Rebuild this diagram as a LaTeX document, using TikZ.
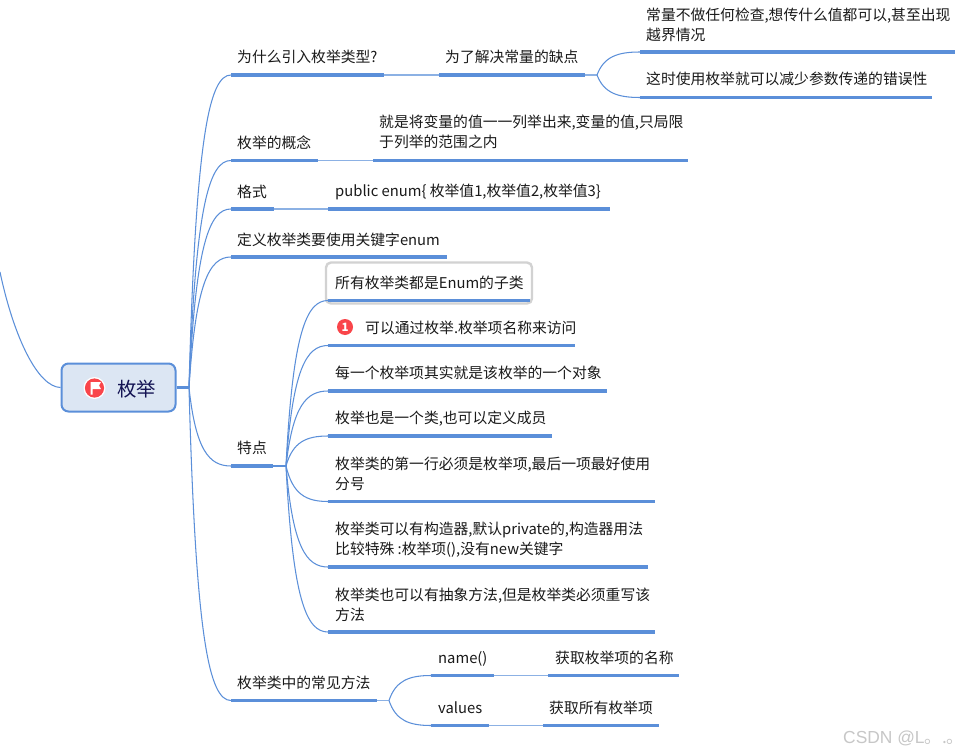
\documentclass[tikz,border=0pt]{standalone}
\usepackage{fontspec}
\setmainfont{Noto Sans CJK SC}
\newfontfamily\wmfont{Liberation Sans}
\usetikzlibrary{calc}
\definecolor{barblue}{HTML}{5B8FD9}
\definecolor{rootfill}{HTML}{DCE6F3}
\definecolor{framegrey}{HTML}{D2D2D2}
\definecolor{iconred}{HTML}{F9454A}
\definecolor{inkc}{HTML}{1A1A1A}
\tikzset{
  bar/.style={draw=barblue,line width=3.4pt},
  link/.style={draw=barblue,line width=1.05pt},
  stublink/.style={draw=barblue!70,line width=1.05pt},
  lab/.style={anchor=base west,inner sep=0pt,align=left,text=inkc,font=\fontsize{14.8}{20}\selectfont},
}
% name, x-left, x-right, y of bar
\newcommand{\mybar}[4]{%
  \coordinate (#1-l) at (#2,#4);
  \coordinate (#1-r) at (#3,#4);
  \draw[bar] (#1-l) -- (#1-r);}
% fork curve from coordinate to coordinate
\newcommand{\mycurve}[2]{%
  \draw[link] let \p1=(#1),\p2=(#2) in (#1) .. controls
   ({\x1+0.16*(\x2-\x1)},{\y1+0.80*(\y2-\y1)}) and ({\x1+0.48*(\x2-\x1)},\y2) .. (#2);}
\begin{document}
\begin{tikzpicture}[x=1pt,y=-1pt]
\useasboundingbox (0,0) rectangle (971,754);
\fill[white] (0,0) rectangle (971,754);

% forks
\coordinate (rootfork) at (189,387.5);
\coordinate (whyfork) at (597,75);
\coordinate (featfork) at (286,466);
\coordinate (methfork) at (389,700.5);
\coordinate (offleft) at (0,272);

% frame of selected topic
\node[draw=framegrey,line width=2.4pt,rounded corners=5pt,minimum width=206pt,minimum height=41pt,inner sep=0pt] (selframe) at (429,283) {};

% bars
\mybar{why}{231}{384}{75}
\mybar{solve}{439}{585}{75}
\mybar{noch}{640}{955}{52}
\mybar{less}{640}{932}{97.5}
\mybar{conc}{231}{318}{160.5}
\mybar{concd}{373}{688}{160.5}
\mybar{fmt}{231}{274}{209}
\mybar{fmtd}{328}{610}{209}
\mybar{def}{231}{447}{257}
\mybar{feat}{231}{273}{466}
\mybar{f1}{328}{530}{300.5}
\mybar{f2}{328}{575}{345.5}
\mybar{f3}{328}{607}{391}
\mybar{f4}{328}{552}{436}
\mybar{f5}{328}{655}{501.5}
\mybar{f6}{328}{648}{567}
\mybar{f7}{328}{655}{632}
\mybar{meth}{231}{377}{700.5}
\mybar{name}{431}{494}{675.5}
\mybar{named}{548}{679}{675.5}
\mybar{vals}{431}{489}{725.5}
\mybar{valsd}{543}{659}{725.5}

% root
\node[draw=barblue,fill=rootfill,line width=2pt,rounded corners=7pt,minimum width=114pt,minimum height=48pt,inner sep=0pt] (root) at (118.5,387.5) {};
\draw[bar] (root.east) -- (rootfork);
\fill[white] (94.5,388) circle (11pt);
\fill[iconred] (94.5,388) circle (9.6pt) coordinate (flagc);
\fill[white] (90.5,382) -- (101,382) -- (99,385.5) -- (101,389) -- (92.5,389) -- (92.5,394.5) -- (90.5,394.5) -- cycle;
\node[lab,font=\fontsize{19.4}{22}\selectfont,text=inkc!75!blue] (roottext) at (117,396.5) {枚举};

% connectors
\draw[link] (root.west) .. controls (38,387) and (14,338) .. (offleft);
\mycurve{rootfork}{why-l}
\mycurve{rootfork}{conc-l}
\mycurve{rootfork}{fmt-l}
\mycurve{rootfork}{def-l}
\mycurve{rootfork}{feat-l}
\mycurve{rootfork}{meth-l}
\draw[stublink] (why-r) -- (solve-l);
\draw[stublink] (conc-r) -- (concd-l);
\draw[stublink] (fmt-r) -- (fmtd-l);
\draw[stublink] (solve-r) -- (whyfork);
\mycurve{whyfork}{noch-l}
\mycurve{whyfork}{less-l}
\draw[link] (feat-r) -- (featfork);
\mycurve{featfork}{f1-l}
\mycurve{featfork}{f2-l}
\mycurve{featfork}{f3-l}
\mycurve{featfork}{f4-l}
\mycurve{featfork}{f5-l}
\mycurve{featfork}{f6-l}
\mycurve{featfork}{f7-l}
\draw[stublink] (meth-r) -- (methfork);
\mycurve{methfork}{name-l}
\mycurve{methfork}{vals-l}
\draw[stublink] (name-r) -- (named-l);
\draw[stublink] (vals-r) -- (valsd-l);

% labels
\node[lab] (twhy) at (237,63) {为什么引入枚举类型?};
\node[lab] (tsolve) at (445,63) {为了解决常量的缺点};
\node[lab] (tnoch) at (646,40.5) {常量不做任何检查,想传什么值都可以,甚至出现\\越界情况};
\node[lab] (tless) at (646,85) {这时使用枚举就可以减少参数传递的错误性};
\node[lab] (tconc) at (237,149) {枚举的概念};
\node[lab] (tconcd) at (379,148) {就是将变量的值一一列举出来,变量的值,只局限\\于列举的范围之内};
\node[lab] (tfmt) at (237,197) {格式};
\node[lab] (tfmtd) at (335,196.5) {public enum\{ 枚举值1,枚举值2,枚举值3\}};
\node[lab] (tdef) at (237,245) {定义枚举类要使用关键字enum};
\node[lab] (tfeat) at (237,453.5) {特点};
\node[lab] (tf1) at (335,288) {所有枚举类都是Enum的子类};
\fill[iconred] (345,327) circle (8pt) coordinate (numc);
\node[anchor=center,inner sep=0pt,text=white,font=\fontsize{11.5}{12}\selectfont\bfseries] (numtext) at (345,327) {1};
\node[lab] (tf2) at (365,333) {可以通过枚举.枚举项名称来访问};
\node[lab] (tf3) at (335,378) {每一个枚举项其实就是该枚举的一个对象};
\node[lab] (tf4) at (335,423) {枚举也是一个类,也可以定义成员};
\node[lab] (tf5) at (335,489) {枚举类的第一行必须是枚举项,最后一项最好使用\\分号};
\node[lab] (tf6) at (335,554.5) {枚举类可以有构造器,默认private的,构造器用法\\比较特殊 :枚举项(),没有new关键字};
\node[lab] (tf7) at (335,620) {枚举类也可以有抽象方法,但是枚举类必须重写该\\方法};
\node[lab] (tmeth) at (237,688) {枚举类中的常见方法};
\node[lab] (tname) at (438,663) {name()};
\node[lab] (tnamed) at (555,663) {获取枚举项的名称};
\node[lab] (tvals) at (438,713) {values};
\node[lab] (tvalsd) at (549,713) {获取所有枚举项};

% watermark
\node[anchor=base west,inner sep=0pt,text=black!22,font=\fontsize{17.4}{20}\selectfont] (wm) at (843,743) {{\wmfont CSDN @L}。.。};
\end{tikzpicture}
\end{document}
